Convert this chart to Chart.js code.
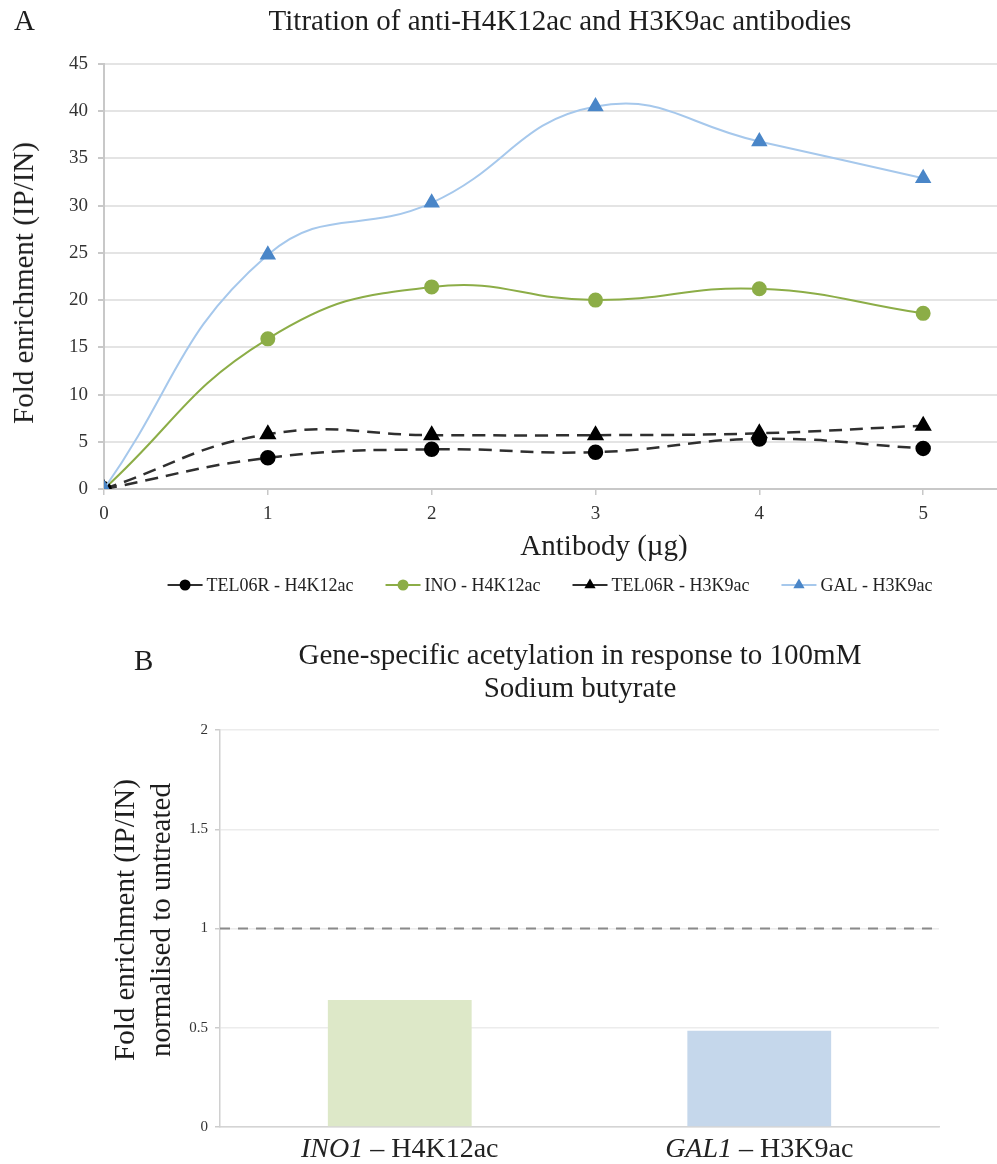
<!DOCTYPE html>
<html lang="en">
<head>
<meta charset="UTF-8">
<title>Titration and butyrate ChIP</title>
<script src="https://cdn.jsdelivr.net/npm/chart.js@4.4.1/dist/chart.umd.min.js"></script>
<style>
  html, body { margin: 0; padding: 0; background: #fff; }
  body { position: relative; width: 997px; height: 1164px; overflow: hidden;
         font-family: 'Liberation Serif', 'Times New Roman', serif; color: #1e1e1e; }
  canvas { position: absolute; left: 0; }
  #chartA { top: 0; }
  #chartB { top: 600px; }
  .txt { position: absolute; white-space: nowrap; font-size: 29px; line-height: 30px; }
  .center { transform: translateX(-50%); text-align: center; }
  .vert { transform: translate(-50%, -50%) rotate(-90deg); text-align: center; }
</style>
</head>
<body>

<canvas id="chartA" width="1100" height="600"></canvas>
<canvas id="chartB" width="997" height="564"></canvas>

<!-- panel A texts -->
<div class="txt" style="left:14px; top:5px;">A</div>
<div class="txt center" style="left:560px; top:5px;">Titration of anti-H4K12ac and H3K9ac antibodies</div>
<div class="txt center" style="left:604px; top:530px;">Antibody (µg)</div>
<div class="txt vert" style="left:23px; top:283px;">Fold enrichment (IP/IN)</div>

<!-- panel B texts -->
<div class="txt" style="left:134px; top:645px;">B</div>
<div class="txt center" style="left:580px; top:638px; line-height:33px;">Gene-specific acetylation in response to 100mM<br>Sodium butyrate</div>
<div class="txt vert" style="left:142px; top:920px; line-height:36px;">Fold enrichment (IP/IN)<br>normalised to untreated</div>

<script>
const SERIF = "'Liberation Serif', 'Times New Roman', serif";

// ---- panel A: antibody titration ----
const dose = [0, 1, 2, 3, 4, 5];
const tel06rH4K12 = [0, 3.3, 4.2, 3.9, 5.3, 4.3];
const inoH4K12 = [0, 15.9, 21.4, 20.0, 21.2, 18.6];
const tel06rH3K9 = [0, 5.8, 5.7, 5.7, 5.9, 6.7];
const galH3K9 = [0, 24.8, 30.3, 40.5, 36.8, 32.9];
const seriesNames = ['TEL06R - H4K12ac', 'INO - H4K12ac', 'TEL06R - H3K9ac', 'GAL - H3K9ac'];

// ---- panel B: butyrate response ----
const genes = ['INO1', 'GAL1'];
const marks = ['H4K12ac', 'H3K9ac'];
const butyrateFold = [0.64, 0.485];
const refX = [0, 1];
const refLevel = [1, 1];

function pts(vals) {
    return dose.map((d, i) => ({ x: d, y: vals[i] }));
}

// legend with a short line and the marker in the middle, like Excel
const lineLegend = {
    id: 'lineLegend',
    afterDraw(chart, args, opts) {
        const ctx = chart.ctx;
        ctx.save();
        ctx.font = opts.size + 'px ' + SERIF;
        const sym = 35, gap = 4, space = 32;
        const items = chart.data.datasets.map(ds => ({ ds, w: ctx.measureText(ds.label).width }));
        const total = items.reduce((s, it) => s + sym + gap + it.w, 0) + space * (items.length - 1);
        let x = opts.centerX - total / 2;
        const y = opts.y;
        items.forEach(it => {
            const ds = it.ds;
            ctx.setLineDash([]);
            ctx.strokeStyle = ds.borderColor;
            ctx.lineWidth = 2;
            ctx.beginPath();
            ctx.moveTo(x, y);
            ctx.lineTo(x + sym, y);
            ctx.stroke();
            ctx.fillStyle = ds.pointBackgroundColor;
            ctx.strokeStyle = ds.pointBackgroundColor;
            Chart.helpers.drawPoint(ctx, { pointStyle: ds.pointStyle, radius: 4.5, rotation: 0, borderWidth: 1 }, x + sym / 2, y);
            ctx.fillStyle = '#222';
            ctx.textBaseline = 'middle';
            ctx.fillText(ds.label, x + sym + gap, y + 1);
            x += sym + gap + it.w + space;
        });
        ctx.restore();
    }
};

// category labels with the gene name in italics
const geneLabels = {
    id: 'geneLabels',
    afterDraw(chart, args, opts) {
        const { ctx, chartArea, scales } = chart;
        ctx.save();
        ctx.fillStyle = '#222';
        ctx.textBaseline = 'alphabetic';
        genes.forEach((g, i) => {
            const rest = ' \u2013 ' + marks[i];
            ctx.font = 'italic ' + opts.size + 'px ' + SERIF;
            const w1 = ctx.measureText(g).width;
            ctx.font = opts.size + 'px ' + SERIF;
            const w2 = ctx.measureText(rest).width;
            const left = scales.x.getPixelForValue(i) - (w1 + w2) / 2;
            const y = chartArea.bottom + opts.offset;
            ctx.font = 'italic ' + opts.size + 'px ' + SERIF;
            ctx.fillText(g, left, y);
            ctx.font = opts.size + 'px ' + SERIF;
            ctx.fillText(rest, left + w1, y);
        });
        ctx.restore();
    }
};

const tickFont = { family: SERIF, size: 19 };

new Chart(document.getElementById('chartA'), {
    type: 'line',
    data: {
        datasets: [
            {
                label: seriesNames[0], data: pts(tel06rH4K12),
                borderColor: '#2f2f2f', borderWidth: 2.5, borderDash: [13, 8],
                pointStyle: 'circle', pointRadius: 6.5, pointBackgroundColor: '#000', pointBorderColor: '#000',
                tension: 0.45
            },
            {
                label: seriesNames[1], data: pts(inoH4K12),
                borderColor: '#8cad47', borderWidth: 2,
                pointStyle: 'circle', pointRadius: 6.5, pointBackgroundColor: '#8cad47', pointBorderColor: '#8cad47',
                tension: 0.45
            },
            {
                label: seriesNames[2], data: pts(tel06rH3K9),
                borderColor: '#2f2f2f', borderWidth: 2.5, borderDash: [13, 8],
                pointStyle: 'triangle', pointRadius: 7.5, pointBackgroundColor: '#000', pointBorderColor: '#000',
                tension: 0.45
            },
            {
                label: seriesNames[3], data: pts(galH3K9),
                borderColor: '#a6c8ec', borderWidth: 2,
                pointStyle: 'triangle', pointRadius: 7.5, pointBackgroundColor: '#4a86c8', pointBorderColor: '#4a86c8',
                tension: 0.45, order: -1
            }
        ]
    },
    options: {
        responsive: false,
        animation: false,
        layout: { padding: { left: 30, top: 64, right: 13, bottom: 0 } },
        plugins: {
            legend: { display: false },
            tooltip: { enabled: false },
            lineLegend: { centerX: 550, y: 585, size: 18 }
        },
        scales: {
            x: {
                type: 'linear', min: 0, max: 6,
                ticks: { stepSize: 1, padding: 8, color: '#333', font: tickFont },
                grid: { drawOnChartArea: false, tickLength: 6, color: '#c8c8c8', lineWidth: 1.5 },
                border: { color: '#c8c8c8', width: 2 },
                afterFit: s => { s.height = 111; }
            },
            y: {
                min: 0, max: 45,
                ticks: { stepSize: 5, padding: 10, color: '#333', font: tickFont },
                grid: { color: '#e4e4e4', lineWidth: 2, tickLength: 6, tickColor: '#c8c8c8' },
                border: { color: '#c8c8c8', width: 2 },
                afterFit: s => { s.width = 74; }
            }
        }
    },
    plugins: [lineLegend]
});

new Chart(document.getElementById('chartB'), {
    type: 'bar',
    data: {
        labels: genes.map((g, i) => g + ' \u2013 ' + marks[i]),
        datasets: [
            {
                type: 'bar', data: butyrateFold,
                backgroundColor: ['#dde8c8', '#c5d7eb'],
                barPercentage: 0.4, categoryPercentage: 1, grouped: false, order: 1
            },
            {
                type: 'line', xAxisID: 'xr',
                data: refX.map((x, i) => ({ x: x, y: refLevel[i] })),
                borderColor: '#8a8a8a', borderWidth: 2, borderDash: [10, 8],
                pointRadius: 0, clip: false, order: 0
            }
        ]
    },
    options: {
        responsive: false,
        animation: false,
        layout: { padding: { left: 160, top: 130, right: 58, bottom: 0 } },
        plugins: {
            legend: { display: false },
            tooltip: { enabled: false },
            geneLabels: { size: 28, offset: 30 }
        },
        scales: {
            x: {
                ticks: { display: false },
                grid: { display: false },
                border: { color: '#d4d4d4', width: 1.5 },
                afterFit: s => { s.height = 37; }
            },
            xr: { type: 'linear', min: 0, max: 1, offset: false, display: false, grid: { offset: false } },
            y: {
                min: 0, max: 2,
                ticks: { stepSize: 0.5, padding: 7, color: '#333', font: { family: SERIF, size: 15 },
                         callback: v => String(v) },
                grid: { color: '#ececec', lineWidth: 1.5, tickLength: 5, tickColor: '#cccccc' },
                border: { color: '#d0d0d0', width: 1.5 },
                afterFit: s => { s.width = 60; }
            }
        }
    },
    plugins: [geneLabels]
});
</script>
</body>
</html>
